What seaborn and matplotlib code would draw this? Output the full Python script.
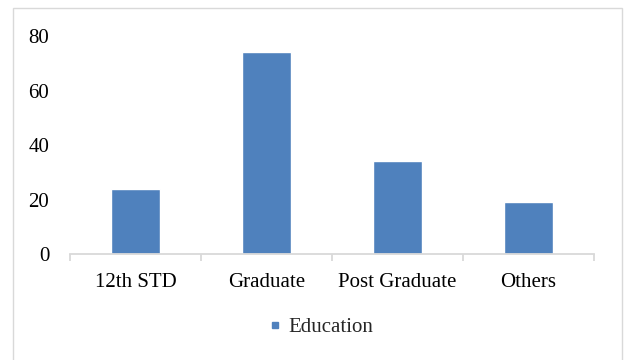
import matplotlib
matplotlib.use("Agg")
import matplotlib.pyplot as plt
from matplotlib.lines import Line2D
from matplotlib.patches import Rectangle
import seaborn as sns
import pandas as pd

categories = ["12th STD", "Graduate", "Post Graduate", "Others"]
values = [24, 74, 34, 19]
series_name = "Education"
y_ticks = [0, 20, 40, 60, 80]

BAR_COLOR = "#4F81BD"
AXIS_GRAY = "#D9D9D9"

sns.set_theme(style="white")
plt.rcParams["font.family"] = ["Liberation Serif", "DejaVu Serif"]

df = pd.DataFrame({"category": categories, "value": values, "series": series_name})

fig = plt.figure(figsize=(6.24, 3.6), dpi=100)
ax = fig.add_axes([70 / 624, 1 - 254 / 360, 524 / 624, 218 / 360])

sns.barplot(data=df, x="category", y="value", color=BAR_COLOR, saturation=1,
            width=0.367, ax=ax, legend=False)

ax.set_ylim(0, 80)
ax.set_xlim(-0.5, len(categories) - 0.5)
ax.set_yticks(y_ticks)
ax.set_xlabel("")
ax.set_ylabel("")

for side in ("top", "right", "left"):
    ax.spines[side].set_visible(False)
ax.spines["bottom"].set_color(AXIS_GRAY)
ax.spines["bottom"].set_linewidth(1.3)

ax.tick_params(axis="y", length=0, pad=15, labelsize=15, labelcolor="#000000")
ax.tick_params(axis="x", which="major", length=0, pad=14, labelsize=15, labelcolor="#000000")
ax.set_xticks([i - 0.5 for i in range(len(categories) + 1)], minor=True)
ax.tick_params(axis="x", which="minor", bottom=True, length=5, width=1.3,
               color=AXIS_GRAY, direction="out")

handle = Line2D([], [], linestyle="none", marker="s", markersize=5,
                markerfacecolor=BAR_COLOR, markeredgecolor=BAR_COLOR)
fig.legend([handle], [series_name], loc="center", bbox_to_anchor=(320 / 624, 1 - 327 / 360),
           frameon=False, fontsize=15, handletextpad=0.2, handlelength=0.8,
           borderpad=0, borderaxespad=0)

# chart area frame
fig.patches.append(Rectangle((13 / 624, -0.01), 609 / 624, 1 - 8 / 360 + 0.01,
                             transform=fig.transFigure, fill=False,
                             edgecolor=AXIS_GRAY, linewidth=1.0))

fig.savefig("out.png", dpi=100)
